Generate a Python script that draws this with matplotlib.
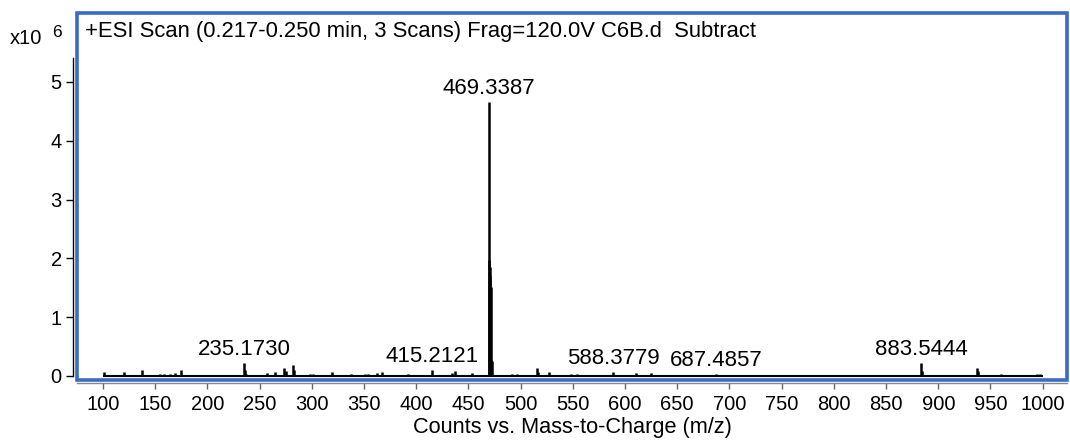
import matplotlib
matplotlib.use("Agg")
import matplotlib.pyplot as plt
from matplotlib.patches import Rectangle
import numpy as np

plt.rcParams['font.family'] = ['Liberation Sans', 'DejaVu Sans']

# peak list: m/z and intensity (x10^6 counts)
mz = [101.0, 120.4, 137.6, 154.6, 158.0, 164.2, 169.0, 174.7,
      235.173, 236.18, 237.2, 257.3, 264.7, 273.6, 275.2, 281.6, 283.2,
      298.0, 301.0, 319.0, 338.0, 351.0, 354.0, 362.0, 367.0, 392.3,
      415.2121, 433.8, 437.0, 453.0,
      469.3387, 469.9, 470.34, 470.8, 471.3, 471.9, 472.3,
      491.3, 496.1, 515.2, 516.2, 527.3, 548.7, 554.0, 588.3779,
      610.3, 625.3, 687.4857, 883.5444, 884.55, 937.0, 938.0, 960.4,
      994.7, 997.0]
counts = [0.06, 0.06, 0.10, 0.04, 0.04, 0.04, 0.05, 0.10,
          0.216, 0.10, 0.04, 0.05, 0.07, 0.14, 0.08, 0.19, 0.10,
          0.04, 0.04, 0.07, 0.03, 0.04, 0.04, 0.05, 0.06, 0.04,
          0.10, 0.05, 0.08, 0.05,
          4.66, 1.97, 1.85, 1.70, 1.52, 0.28, 0.25,
          0.04, 0.04, 0.13, 0.06, 0.07, 0.04, 0.04, 0.065,
          0.05, 0.05, 0.03, 0.216, 0.08, 0.13, 0.08, 0.04,
          0.04, 0.04]

labeled = [235.173, 415.2121, 469.3387, 588.3779, 687.4857, 883.5444]
label_text = ["235.1730", "415.2121", "469.3387", "588.3779", "687.4857", "883.5444"]
scan_range = [100, 1000]

xticks = np.arange(100, 1001, 50)
yticks = [0, 1, 2, 3, 4, 5]

title = "+ESI Scan (0.217-0.250 min, 3 Scans) Frag=120.0V C6B.d  Subtract"
xlabel = "Counts vs. Mass-to-Charge (m/z)"

blue = '#3a6cc6'

fig = plt.figure(figsize=(10.7, 4.41), dpi=100)
ax = fig.add_axes([77/1070, 1 - 380/441, 990/1070, 367/441])

ax.hlines(0, scan_range[0], scan_range[1], color='black', lw=1.5)
ax.vlines(mz, 0, counts, color='black', lw=1.8)

for m, t in zip(labeled, label_text):
    h = counts[mz.index(m)]
    ax.annotate(t, xy=(m, h), xytext=(0, 3), textcoords='offset pixels',
                ha='center', va='bottom', fontsize=16)

ax.set_xlim(75.1, 1023.3)
ax.set_ylim(-0.068, 6.17)

ax.set_xticks(xticks)
ax.set_xticklabels([str(v) for v in xticks])
ax.set_yticks(yticks)
ax.set_yticklabels([str(v) for v in yticks])
ax.tick_params(axis='x', direction='out', length=4, width=1, color='#666666',
               labelsize=14.5, pad=5)
ax.tick_params(axis='y', direction='out', length=5, width=1, color='black',
               labelsize=14.5, pad=3)

for s in ['top', 'right']:
    ax.spines[s].set_visible(False)
ax.spines['left'].set_position(('outward', 2.9))
ax.spines['left'].set_bounds(0, 5.4)
ax.spines['left'].set_linewidth(1)
ax.spines['bottom'].set_position(('outward', 2))
ax.spines['bottom'].set_color('#888888')
ax.spines['bottom'].set_linewidth(1)

ax.add_patch(Rectangle((0, 0), 1, 1, transform=ax.transAxes, fill=False,
                       ec=blue, lw=2.6, clip_on=False, zorder=10))

ax.text(8/990, (380 - 36.7)/367, title, transform=ax.transAxes,
        ha='left', va='baseline', fontsize=15.8)

ax.set_xlabel(xlabel, fontsize=15.7, labelpad=2)

fig.text(10/1070, 1 - 43.5/441, "x10", ha='left', va='baseline', fontsize=14.5)
fig.text(52/1070, 1 - 37/441, "6", ha='left', va='baseline', fontsize=12.5)

fig.savefig("out.png", dpi=100)
